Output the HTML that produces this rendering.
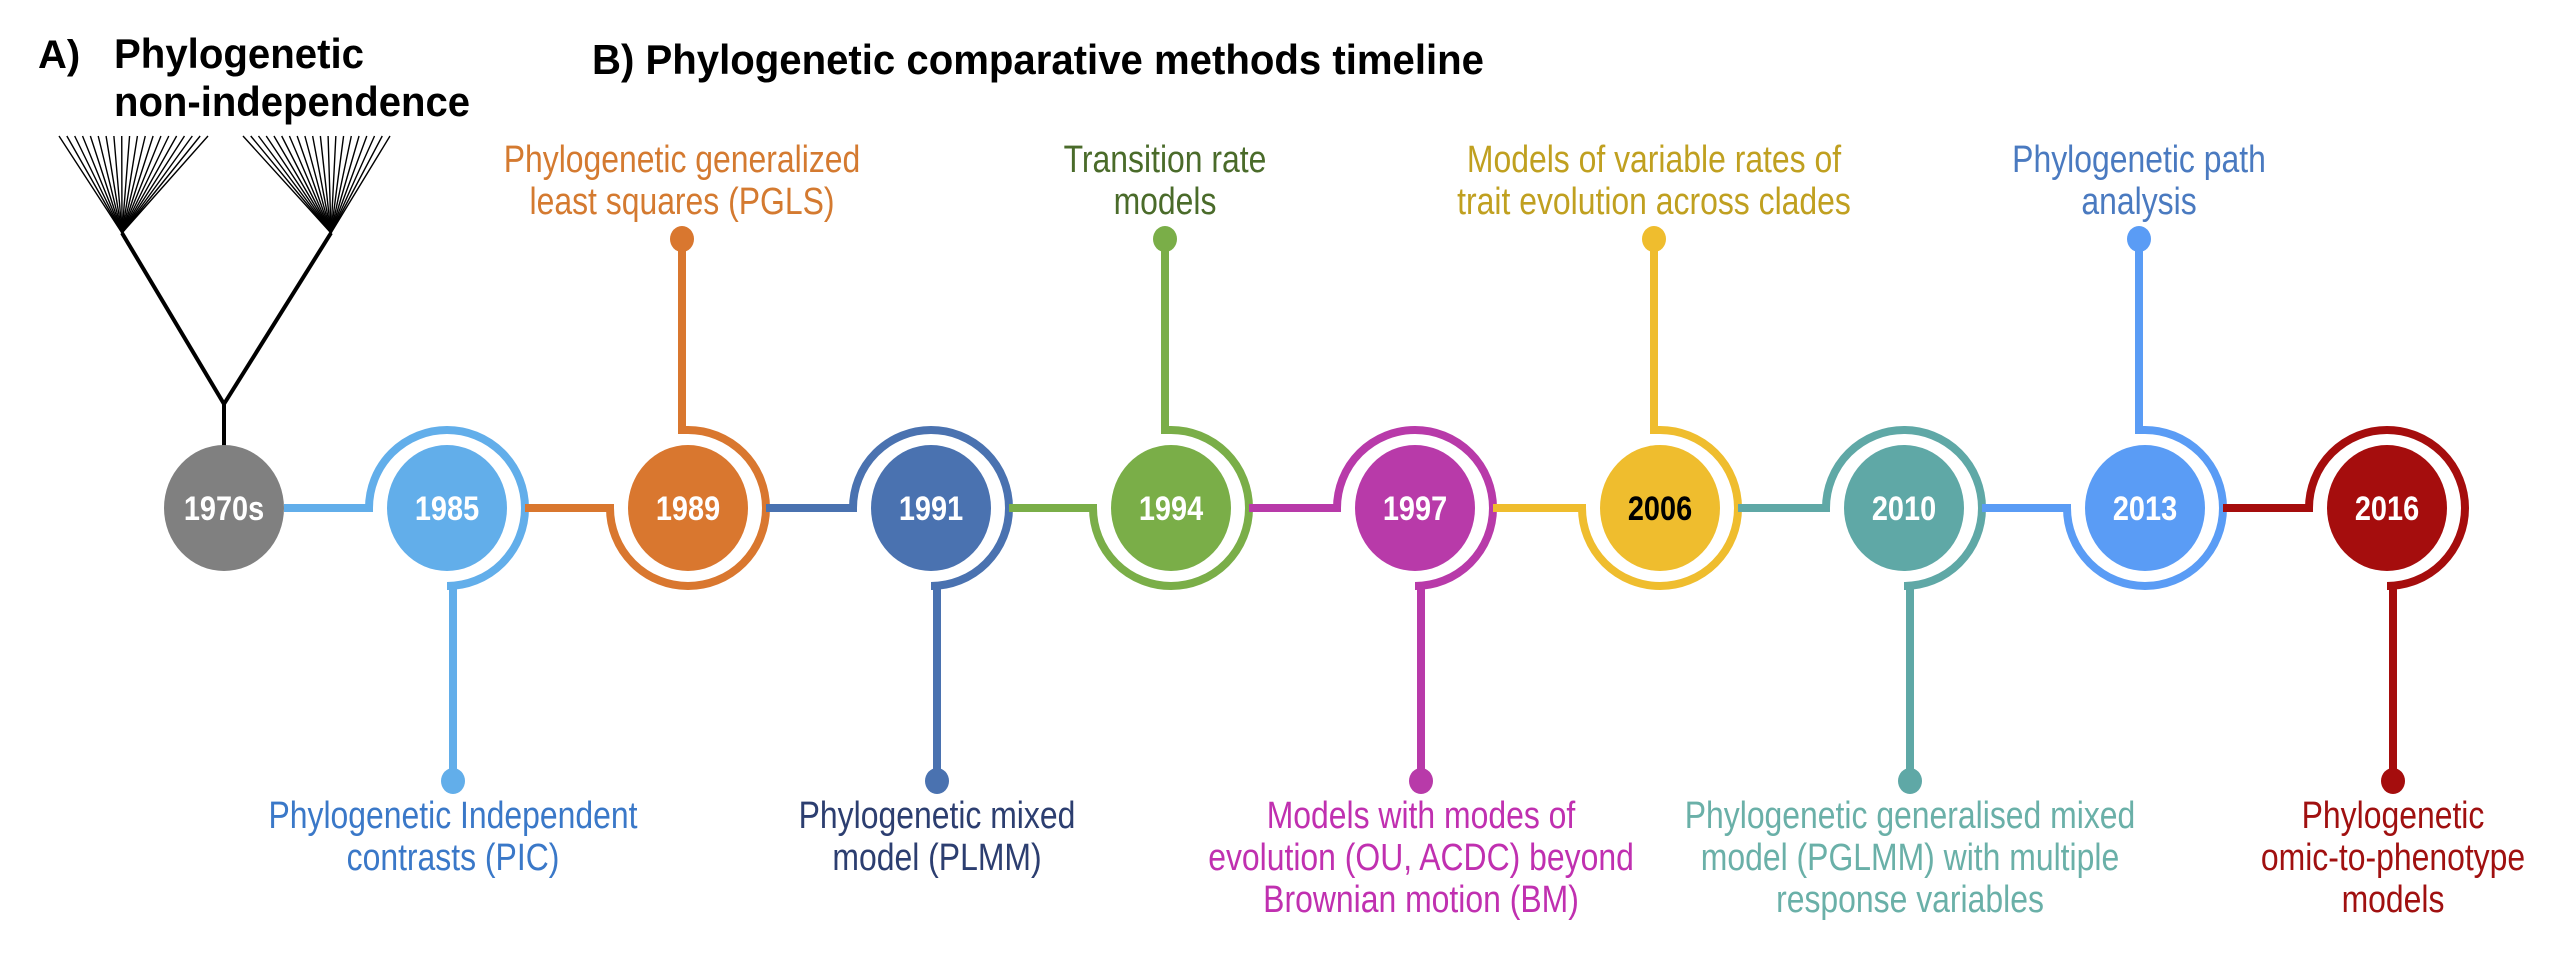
<!DOCTYPE html>
<html><head><meta charset="utf-8">
<style>
html,body{margin:0;padding:0;background:#fff;}
svg{display:block;}
text{font-family:"Liberation Sans",sans-serif;}
</style></head>
<body>
<svg id="chart" width="2560" height="960" viewBox="0 0 2560 960">
  <text x="38" y="68" font-size="40" font-weight="bold" fill="#000">A)</text>
  <text x="114" y="68" font-size="42" font-weight="bold" fill="#000" textLength="250" lengthAdjust="spacingAndGlyphs">Phylogenetic</text>
  <text x="114" y="116" font-size="42" font-weight="bold" fill="#000" textLength="356" lengthAdjust="spacingAndGlyphs">non-independence</text>
  <text x="592" y="74" font-size="42" font-weight="bold" fill="#000" textLength="892" lengthAdjust="spacingAndGlyphs">B) Phylogenetic comparative methods timeline</text>
  <g id="tree"></g>
  <g id="tl"></g>
</svg>
<script>
const years = ["1970s","1985","1989","1991","1994","1997","2006","2010","2013","2016"];
const centersX = [224,447,688,931,1171,1415,1660,1904,2145,2387];
const directions = ["none","down","up","down","up","down","up","down","up","down"];
const nodeColors = ["#808080","#62aeea","#d9772f","#4a72b0","#7aae48","#b83aa9","#efbd2e","#5fa8a6","#5a9cf5","#a50d0d"];
const textColors = ["#000","#3a78c8","#d47a30","#2c3e70","#4a6b2a","#c030b0","#c0a020","#6ab0a8","#4a7ac0","#a01010"];
const labels = [
  [],
  ["Phylogenetic Independent","contrasts (PIC)"],
  ["Phylogenetic generalized","least squares (PGLS)"],
  ["Phylogenetic mixed","model (PLMM)"],
  ["Transition rate","models"],
  ["Models with modes of","evolution (OU, ACDC) beyond","Brownian motion (BM)"],
  ["Models of variable rates of","trait evolution across clades"],
  ["Phylogenetic generalised mixed","model (PGLMM) with multiple","response variables"],
  ["Phylogenetic path","analysis"],
  ["Phylogenetic","omic-to-phenotype","models"]
];
const NS="http://www.w3.org/2000/svg";
const tl=document.getElementById('tl');
const cy=508, R=78, r=60, topDot=239, botDot=781;
function mk(tag,attrs,parent){const e=document.createElementNS(NS,tag);for(const k in attrs)e.setAttribute(k,attrs[k]);parent.appendChild(e);return e;}
const tree=document.getElementById('tree');
const treeLines=[[224,450,224,404],[224,404,122,233],[224,404,331,233]];
treeLines.forEach(l=>{const e=mk('line',{x1:l[0],y1:l[1],x2:l[2],y2:l[3],stroke:'#000','stroke-width':4},tree);

});
[[122,59,208],[331,243,390]].forEach(f=>{
  for(let i=0;i<20;i++){
    const tx=f[1]+(f[2]-f[1])*i/19;
    const sy=233-((i*7)%5)*4-6;
    const sx=f[0]+(tx-f[0])*(233-sy)/(233-136);
    const e=mk('path',{d:`M${f[0]},233 L${sx},${sy} L${tx},136`,stroke:'#000','stroke-width':1.4,fill:'none'},tree);
    
    
  }
});
for(let i=0;i<years.length;i++){
  const cx=centersX[i], col=nodeColors[i];
  if(i>0){
    const px=centersX[i-1]+(i===1?r:R);
    let d=`M${px},${cy} L${cx-R},${cy} `;
    let stemX, dotY;
    if(directions[i]==="down"){stemX=cx+6;dotY=botDot;d+=`A${R},${R} 0 1 1 ${cx},${cy+R} L${stemX},${cy+R} L${stemX},${dotY}`;}
    else{stemX=cx-6;dotY=topDot;d+=`A${R},${R} 0 1 0 ${cx},${cy-R} L${stemX},${cy-R} L${stemX},${dotY}`;}
    const p=mk('path',{d:d,stroke:col,'stroke-width':8,fill:'none'},tl);
    
    
    const dot=mk('ellipse',{cx:stemX,cy:dotY,rx:12,ry:13,fill:col},tl);
    
    
    const lines=labels[i];
    const startY = directions[i]==="down" ? 828 : 172;
    lines.forEach((ln,j)=>{
      const t=mk('text',{x:0,y:0,'font-size':38,'text-anchor':'middle',fill:textColors[i],transform:`translate(${stemX},${startY+j*42}) scale(0.84,1)`},tl);
      t.textContent=ln;
      
      
    });
  }
  const c=mk('ellipse',{cx:cx,cy:cy,rx:r,ry:r+3,fill:col},tl);
  
  
  const t=mk('text',{x:0,y:0,'font-size':34,'font-weight':'bold','text-anchor':'middle',fill:years[i]==="2006"?'#000':'#fff',transform:`translate(${cx},${cy+12}) scale(0.85,1)`},tl);
  t.textContent=years[i];
  
  
}
</script>
</body></html>
